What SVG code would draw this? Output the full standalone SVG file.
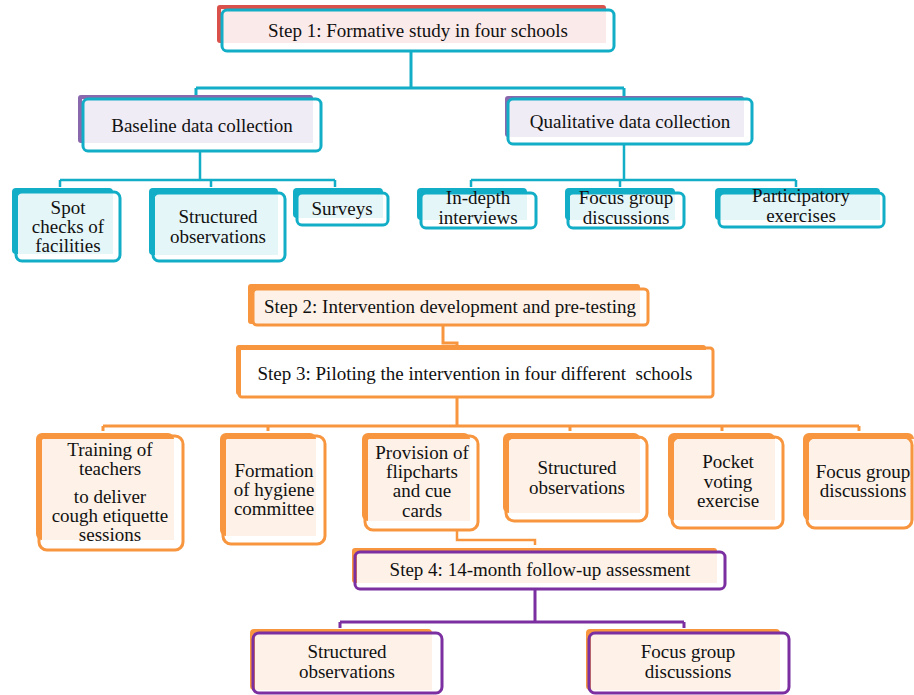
<svg xmlns="http://www.w3.org/2000/svg" width="914" height="695" viewBox="0 0 914 695">
<style>
text{font-family:"Liberation Serif","Times New Roman",serif;font-size:19px;fill:#111;text-anchor:middle}
.fr{fill:none;stroke-width:3}
.teal{stroke:#12adc6}.org{stroke:#f7963f}.pur{stroke:#7b2fa0}
.bk-red{fill:#da504b}.bk-pur{fill:#8a68ad}.bk-teal{fill:#12adc6}.bk-org{fill:#f7963f}
.f-pink{fill:#fbeaea}.f-lav{fill:#f0ecf5}.f-cyan{fill:#e5f6f8}.f-peach{fill:#fdf1e8}.f-white{fill:#fff}
.cn{fill:none;stroke-linejoin:miter}
</style>
<rect width="914" height="695" fill="#fff"/>
<g id="connectors">
<path class="cn teal" stroke-width="3" d="M411 52V88M196 88H624M196 88V99M624 88V99"/>
<path class="cn teal" stroke-width="2.5" d="M200 151V180M60 180H335M60 180V187M211 180V187M335 180V187"/>
<path class="cn teal" stroke-width="2.5" d="M624 144V180M471 180H796M471 180V187M620 180V187M796 180V187"/>
<path class="cn org" stroke-width="3" d="M443 325V343H457V347"/>
<path class="cn org" stroke-width="3" d="M457 397V426M103 426H859M103 426V431M268 426V431M570 426V431M722 426V431M859 426V431"/>
<path class="cn org" stroke-width="2.5" d="M457 530V540H535V545"/>
<path class="cn pur" stroke-width="3" d="M535 589V622M340 622H684M340 622V628M684 622V628"/>
</g>
<g id="step1">
<rect class="bk-red" x="217" y="5" width="389" height="38" rx="3"/>
<rect class="f-pink" x="221" y="9" width="385" height="34"/>
<rect class="fr teal" x="222" y="10" width="392" height="41" rx="5"/>
<text x="418" y="37">Step 1: Formative study in four schools</text>
</g>
<g id="baseline">
<rect class="bk-pur" x="78" y="95" width="235" height="48" rx="3"/>
<rect class="f-lav" x="82" y="99" width="231" height="44"/>
<rect class="fr teal" x="83" y="99" width="238" height="52" rx="5"/>
<text x="202" y="132">Baseline data collection</text>
</g>
<g id="qualitative">
<rect class="bk-pur" x="505" y="96" width="239" height="41" rx="3"/>
<rect class="f-lav" x="508" y="100" width="236" height="37"/>
<rect class="fr teal" x="508" y="99" width="244" height="45" rx="5"/>
<text x="630" y="128">Qualitative data collection</text>
</g>
<g id="spot">
<rect class="bk-teal" x="12" y="188" width="101" height="66" rx="4"/>
<rect class="f-cyan" x="18" y="193" width="95" height="61"/>
<rect class="fr teal" x="16" y="192" width="104" height="69" rx="6"/>
<text x="68" y="214">Spot</text>
<text x="68" y="233">checks of</text>
<text x="68" y="252">facilities</text>
</g>
<g id="structured1">
<rect class="bk-teal" x="149" y="188" width="129" height="67" rx="4"/>
<rect class="f-cyan" x="155" y="193" width="123" height="62"/>
<rect class="fr teal" x="153" y="193" width="132" height="68" rx="6"/>
<text x="218" y="223">Structured</text>
<text x="218" y="243">observations</text>
</g>
<g id="surveys">
<rect class="bk-teal" x="293" y="188" width="90" height="30" rx="4"/>
<rect class="f-cyan" x="298" y="193" width="85" height="25"/>
<rect class="fr teal" x="297" y="193" width="91" height="32" rx="5"/>
<text x="342" y="215">Surveys</text>
</g>
<g id="indepth">
<rect class="bk-teal" x="417" y="188" width="110" height="32" rx="4"/>
<rect class="f-cyan" x="422" y="193" width="105" height="27"/>
<rect class="fr teal" x="421" y="193" width="115" height="35" rx="5"/>
<text x="478" y="204">In-depth</text>
<text x="478" y="224">interviews</text>
</g>
<g id="focus1">
<rect class="bk-teal" x="565" y="188" width="110" height="32" rx="4"/>
<rect class="f-cyan" x="570" y="193" width="105" height="27"/>
<rect class="fr teal" x="568" y="193" width="116" height="35" rx="5"/>
<text x="626" y="204">Focus group</text>
<text x="626" y="224">discussions</text>
</g>
<g id="participatory">
<rect class="bk-teal" x="715" y="188" width="165" height="32" rx="4"/>
<rect class="f-cyan" x="720" y="193" width="160" height="27"/>
<rect class="fr teal" x="719" y="193" width="165" height="34" rx="5"/>
<text x="801" y="202">Participatory</text>
<text x="801" y="222">exercises</text>
</g>
<g id="step2">
<rect class="bk-org" x="248" y="284" width="392" height="40" rx="3"/>
<rect class="f-peach" x="253" y="289" width="387" height="35"/>
<rect class="fr org" x="253" y="289" width="395" height="36" rx="4"/>
<text x="450" y="313">Step 2: Intervention development and pre-testing</text>
</g>
<g id="step3">
<rect class="bk-org" x="236" y="345" width="470" height="50" rx="3"/>
<rect class="f-white" x="241" y="350" width="465" height="45"/>
<rect class="fr org" x="239" y="348" width="474" height="49" rx="3"/>
<text x="475" y="380" xml:space="preserve">Step 3: Piloting the intervention in four different  schools</text>
</g>
<g id="training">
<rect class="bk-org" x="36" y="433" width="138" height="107" rx="6"/>
<rect class="f-peach" x="42" y="439" width="132" height="101"/>
<rect class="fr org" x="39" y="436" width="144" height="114" rx="8"/>
<text x="110" y="456">Training of</text>
<text x="110" y="475">teachers</text>
<text x="110" y="503">to deliver</text>
<text x="110" y="522">cough etiquette</text>
<text x="110" y="541">sessions</text>
</g>
<g id="formation">
<rect class="bk-org" x="220" y="433" width="96" height="103" rx="6"/>
<rect class="f-peach" x="226" y="439" width="90" height="97"/>
<rect class="fr org" x="223" y="436" width="102" height="108" rx="8"/>
<text x="274" y="477">Formation</text>
<text x="274" y="496">of hygiene</text>
<text x="274" y="515">committee</text>
</g>
<g id="provision">
<rect class="bk-org" x="362" y="433" width="108" height="88" rx="6"/>
<rect class="f-peach" x="368" y="439" width="102" height="82"/>
<rect class="fr org" x="365" y="436" width="113" height="94" rx="8"/>
<text x="422" y="459">Provision of</text>
<text x="422" y="478">flipcharts</text>
<text x="422" y="497">and cue</text>
<text x="422" y="517">cards</text>
</g>
<g id="structured3">
<rect class="bk-org" x="503" y="433" width="137" height="80" rx="6"/>
<rect class="f-peach" x="509" y="439" width="131" height="74"/>
<rect class="fr org" x="506" y="437" width="141" height="84" rx="8"/>
<text x="577" y="474">Structured</text>
<text x="577" y="494">observations</text>
</g>
<g id="pocket">
<rect class="bk-org" x="668" y="433" width="107" height="87" rx="6"/>
<rect class="f-peach" x="674" y="439" width="101" height="81"/>
<rect class="fr org" x="672" y="437" width="111" height="91" rx="8"/>
<text x="728" y="468">Pocket</text>
<text x="728" y="488">voting</text>
<text x="728" y="507">exercise</text>
</g>
<g id="focus3">
<rect class="bk-org" x="803" y="433" width="111" height="87" rx="6"/>
<rect class="f-peach" x="809" y="439" width="105" height="81"/>
<rect class="fr org" x="807" y="437" width="105" height="91" rx="8"/>
<text x="863" y="478">Focus group</text>
<text x="863" y="497">discussions</text>
</g>
<g id="step4">
<rect class="bk-org" x="352" y="548" width="365" height="35" rx="3"/>
<rect class="f-peach" x="357" y="553" width="360" height="30"/>
<rect class="fr pur" x="355" y="552" width="370" height="37" rx="5"/>
<text x="540" y="576">Step 4: 14-month follow-up assessment</text>
</g>
<g id="structured4">
<rect class="bk-org" x="250" y="629" width="182" height="61" rx="4"/>
<rect class="f-peach" x="255" y="634" width="177" height="56"/>
<rect class="fr pur" x="253" y="633" width="189" height="60" rx="6"/>
<text x="347" y="658">Structured</text>
<text x="347" y="678">observations</text>
</g>
<g id="focus4">
<rect class="bk-org" x="586" y="629" width="194" height="61" rx="4"/>
<rect class="f-peach" x="591" y="634" width="189" height="56"/>
<rect class="fr pur" x="589" y="633" width="200" height="60" rx="6"/>
<text x="688" y="658">Focus group</text>
<text x="688" y="678">discussions</text>
</g>
</svg>
